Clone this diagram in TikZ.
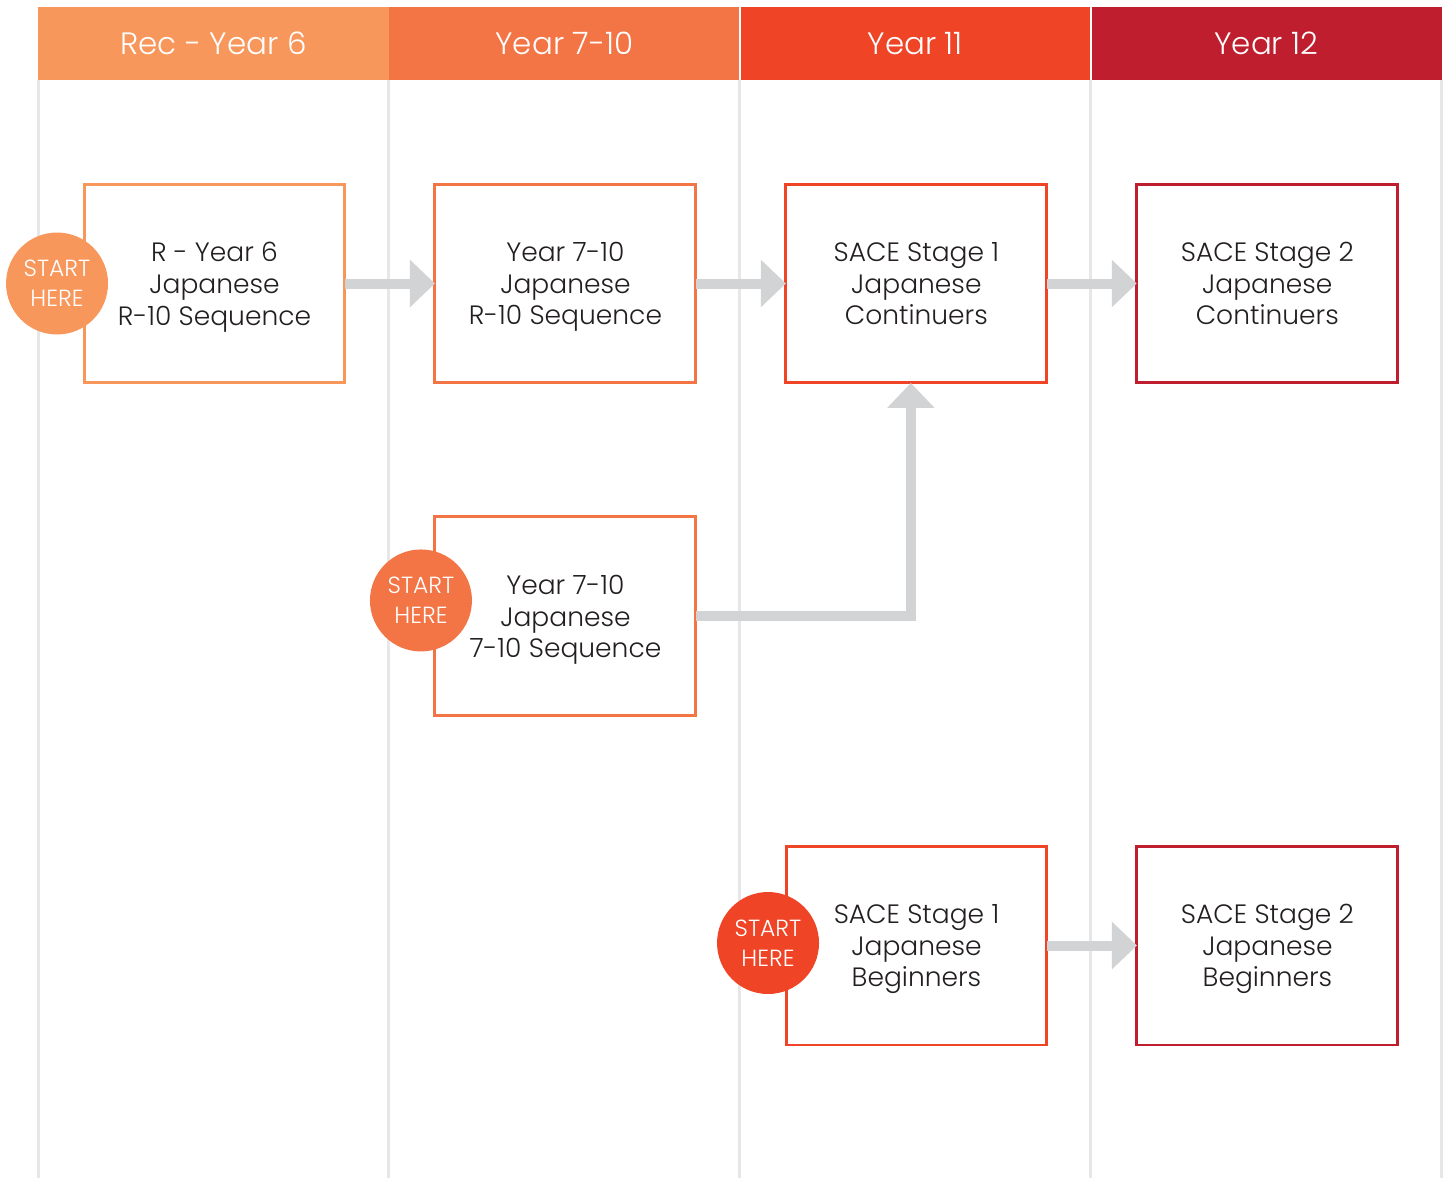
\documentclass[tikz,border=0pt]{standalone}
\usepackage{fontspec}
\setmainfont{Poppins}[UprightFont=* Light]
\usepackage{tikz}
\usetikzlibrary{arrows.meta, positioning}
\usepackage{xcolor}

\definecolor{recorange}{HTML}{F7975B}
\definecolor{midorange}{HTML}{F37444}
\definecolor{redorange}{HTML}{EF4426}
\definecolor{darkred}{HTML}{BE1E2D}
\definecolor{arrowgray}{HTML}{D1D3D4}
\definecolor{gridgray}{HTML}{E6E7E8}
\definecolor{inkgray}{HTML}{231F20}

\begin{document}
\begin{tikzpicture}[
  x=0.02cm, y=-0.02cm,
  node distance=1.8cm,
  yearhead/.style={rectangle, fill=#1, minimum width=7.02cm, minimum height=1.46cm, inner sep=0pt, outer sep=0pt, text=white, font=\fontsize{17.6}{21}\selectfont},
  course/.style={rectangle, draw=#1, line width=1.7pt, fill=white, minimum width=5.22cm, minimum height=3.98cm, align=center, inner sep=0pt, outer sep=0pt, text depth=0pt, text=inkgray, font=\fontsize{15.1}{18.1}\selectfont},
  starthere/.style={circle, fill=#1, minimum size=2.04cm, inner sep=0pt, align=center, text=white, font=\fontsize{13.3}{17}\selectfont},
  flow/.style={-{Triangle[width=0.92cm, length=0.5cm]}, line width=0.2cm, draw=arrowgray},
  gridline/.style={draw=gridgray, line width=1.7pt}
]
\useasboundingbox (0,0) rectangle (1448,1178);

% year headers
\node[yearhead=recorange] (h1) at (213.5,43.5) {Rec - Year 6};
\node[yearhead=midorange, right=0pt of h1] (h2) {Year 7-10};
\node[yearhead=redorange, right=0pt of h2] (h3) {Year 11};
\node[yearhead=darkred, right=0pt of h3] (h4) {Year 12};
\draw[white, line width=0.8pt] (h3.north west) -- (h3.south west);
\draw[white, line width=0.8pt] (h4.north west) -- (h4.south west);

% column lines
\foreach \h in {h1,h2,h3,h4}
  \draw[gridline] (\h.south west) -- (\h.south west |- 0,1178);
\draw[gridline] (h4.south east) -- (h4.south east |- 0,1178);

% courses
\node[course=recorange] (b1) at (214.5,283.5) {R - Year 6\\Japanese\\R-10 Sequence};
\node[course=midorange, right=of b1] (b2) {Year 7-10\\Japanese\\R-10 Sequence};
\node[course=redorange, right=of b2] (b3) {SACE Stage 1\\Japanese\\Continuers};
\node[course=darkred, right=of b3] (b4) {SACE Stage 2\\Japanese\\Continuers};
\node[course=midorange, below=2.68cm of b2] (b5) {Year 7-10\\Japanese\\7-10 Sequence};
\node[course=redorange] (b6) at (916.5,945.5) {SACE Stage 1\\Japanese\\Beginners};
\node[course=darkred, right=of b6] (b7) {SACE Stage 2\\Japanese\\Beginners};

% start markers
\node[starthere=recorange] (s1) at ([xshift=-0.54cm]b1.west) {START\\HERE};
\node[starthere=midorange] (s2) at ([xshift=-0.28cm, yshift=0.32cm]b5.west) {START\\HERE};
\node[starthere=redorange] (s3) at ([xshift=-0.36cm, yshift=0.05cm]b6.west) {START\\HERE};

% pathways
\draw[flow] (b1) -- (b2);
\draw[flow] (b2) -- (b3);
\draw[flow] (b3) -- (b4);
\draw[flow] (b6) -- (b7);
\draw[flow] (b5.east) -| ([xshift=-0.11cm]b3.south);
\end{tikzpicture}
\end{document}
